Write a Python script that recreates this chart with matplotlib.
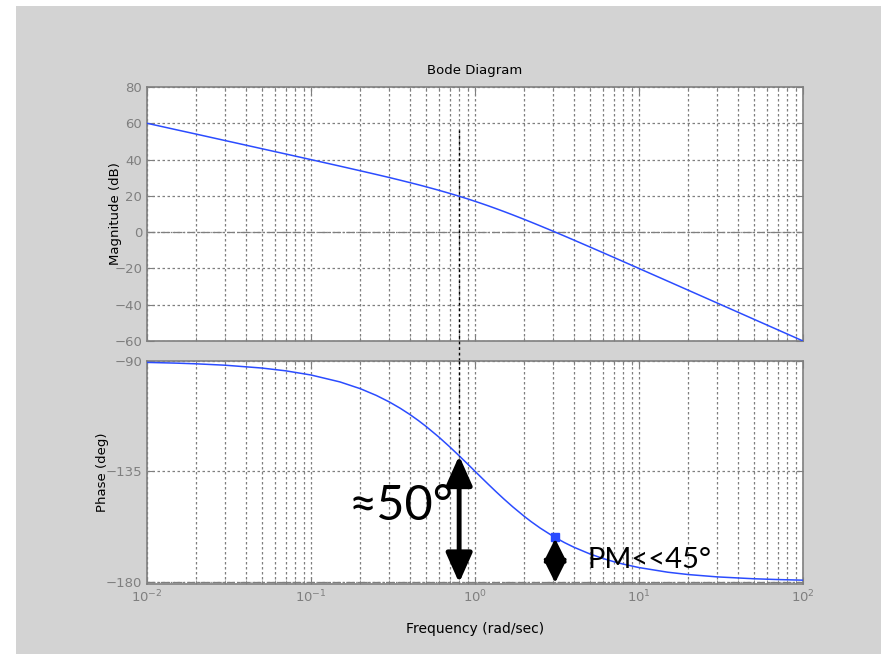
import matplotlib
matplotlib.use("Agg")
import matplotlib.pyplot as plt
from matplotlib.patches import Rectangle

# values
freq = [0.01, 0.015, 0.02, 0.03, 0.05, 0.07, 0.1, 0.15, 0.2, 0.25, 0.3, 0.35,
        0.4, 0.45, 0.5, 0.6, 0.7, 0.8, 0.9, 1.0, 1.1, 1.2, 1.35, 1.5, 1.7,
        2.0, 2.2, 2.5, 3.0, 3.5, 4.0, 5.0, 6.0, 7.0, 8.0, 10.0, 15.0, 20.0,
        30.0, 50.0, 70.0, 100.0]
mag_db = [60.0, 56.48, 54.0, 50.46, 46.0, 43.08, 39.96, 36.38, 33.8, 31.78,
          30.1, 28.62, 27.31, 26.14, 25.05, 23.10, 21.36, 19.79, 18.34, 16.99,
          15.73, 14.55, 12.89, 11.36, 9.49, 6.99, 5.49, 3.44, 0.46, -2.10,
          -4.34, -8.13, -11.24, -13.89, -16.19, -20.04, -27.06, -32.05,
          -39.09, -47.96, -53.80, -60.0]
phase_deg = [-90.57, -90.86, -91.15, -91.72, -92.86, -94.00, -95.71, -98.53,
             -101.31, -104.04, -106.70, -109.29, -111.80, -114.23, -116.57,
             -120.96, -124.99, -128.66, -131.99, -135.0, -137.73, -140.19,
             -143.47, -146.31, -149.53, -153.43, -155.56, -158.20, -161.57,
             -164.05, -165.96, -168.69, -170.54, -171.87, -172.87, -174.29,
             -176.19, -177.14, -178.09, -178.85, -179.18, -179.43]

w_mark = 0.8          # frequency where the dotted line is drawn
ph_mark = -128.66
w_cross = 3.08        # gain crossover
ph_cross = -162.0
mag_top_of_line = 56.3

mag_ticks = [-60, -40, -20, 0, 20, 40, 60, 80]
phase_ticks = [-180, -135, -90]

grey = '#7f7f7f'
blue = '#2b4cff'
dots = (0, (2, 2))

fig = plt.figure(figsize=(8.81, 6.54), dpi=100, facecolor='white')
fig.patches.append(Rectangle((16 / 881, 0), 1, 1 - 6 / 654, transform=fig.transFigure,
                             facecolor='#d3d3d3', edgecolor='none', zorder=-10))

ax1 = fig.add_axes([0.1669, 0.4786, 0.7446, 0.3884])
ax2 = fig.add_axes([0.1669, 0.1070, 0.7446, 0.3410])


def style(ax, yticks):
    ax.set_xscale('log')
    ax.set_xlim(0.01, 100)
    ax.set_yticks(yticks)
    ax.set_facecolor('white')
    for s in ax.spines.values():
        s.set_color(grey)
        s.set_linewidth(1.2)
    ax.tick_params(which='both', direction='in', colors=grey, labelsize=9.5,
                   top=True, right=True)
    ax.tick_params(which='major', length=5)
    ax.tick_params(which='minor', length=3)
    ax.grid(True, which='both', axis='x', color=grey, linestyle=dots, linewidth=0.9)
    ax.grid(True, which='major', axis='y', color=grey, linestyle=dots, linewidth=0.9)


style(ax1, mag_ticks)
ax1.set_ylim(-60, 80)
ax1.tick_params(labelbottom=False)
ax1.axhline(0, color=grey, linestyle='-.', linewidth=0.9, zorder=1.5)
ax1.plot(freq, mag_db, color=blue, linewidth=1.1, zorder=3)
ax1.set_title('Bode Diagram', fontsize=9.5, pad=9)
ax1.set_ylabel('Magnitude (dB)', fontsize=9.5)
ax1.yaxis.set_label_coords(-0.038, 0.5)

style(ax2, phase_ticks)
ax2.set_ylim(-181, -90)
ax2.axhline(-180, color=grey, linestyle='-.', linewidth=0.9, zorder=1.5)
ax2.plot(freq, phase_deg, color=blue, linewidth=1.1, zorder=3)
ax2.plot([w_cross], [ph_cross], marker='s', markersize=6, color=blue, zorder=5)
ax2.set_ylabel('Phase (deg)', fontsize=9.5)
ax2.yaxis.set_label_coords(-0.058, 0.5)
ax2.set_xlabel('Frequency (rad/sec)', fontsize=10, labelpad=12)

# dotted marker line through both panels
ax1.plot([w_mark, w_mark], [mag_top_of_line, -72], color='black', linestyle=dots,
         linewidth=1, clip_on=False, zorder=4)
ax2.plot([w_mark, w_mark], [-90, ph_mark], color='black', linestyle=dots,
         linewidth=1, zorder=4)

# arrows
ax2.annotate('', xy=(w_mark, -180.5), xytext=(w_mark, ph_mark),
             arrowprops=dict(arrowstyle='<|-|>,head_length=0.9,head_width=0.4',
                             color='black', lw=3.5, mutation_scale=20,
                             shrinkA=0, shrinkB=0), zorder=6)
ax2.annotate('', xy=(w_cross, -180.5), xytext=(w_cross, ph_cross - 0.5),
             arrowprops=dict(arrowstyle='<|-|>,head_length=0.7,head_width=0.35',
                             color='black', lw=2.5, mutation_scale=20,
                             shrinkA=0, shrinkB=0), zorder=6)

ax2.text(0.745, -149, '≈50°', fontsize=35, ha='right', va='center',
         family=['Lato', 'DejaVu Sans'], zorder=7)
ax2.text(4.85, -171.3, 'PM<<45°', fontsize=21, ha='left', va='center',
         family=['Lato', 'DejaVu Sans'], zorder=7)

fig.savefig('out.png', dpi=100, facecolor=fig.get_facecolor())
